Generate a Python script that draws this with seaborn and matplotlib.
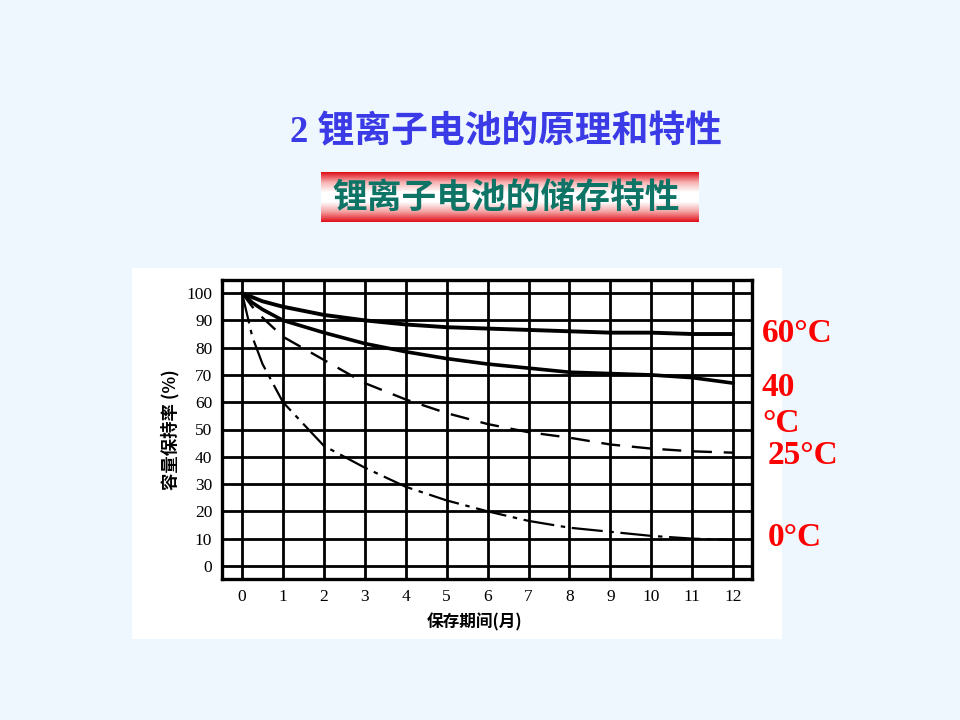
import numpy as np
import pandas as pd
import matplotlib
matplotlib.use("Agg")
import matplotlib.pyplot as plt
import seaborn as sns
from matplotlib.colors import LinearSegmentedColormap

# storage time (months) and capacity retention (%)
months = [0, 0.25, 0.5, 1, 2, 3, 4, 5, 6, 7, 8, 9, 10, 11, 12]
ret_60 = [100, 98.5, 97, 95, 92, 90, 88.5, 87.5, 87, 86.5, 86, 85.5, 85.5, 85, 85]
ret_40 = [100, 96.5, 94, 90, 85.5, 81.5, 78.5, 76, 74, 72.5, 71, 70.5, 70, 69, 67]
ret_25 = [100, 95, 91, 84, 75.5, 67, 61, 56, 52, 49, 47, 44.5, 43, 42, 41.5]
ret_0 = [100, 84, 74, 60, 44, 36, 29, 24, 20, 16.5, 14, 12.5, 11, 10, 9.5]

x_ticks = list(range(0, 13))
y_ticks = list(range(0, 101, 10))
temp_labels = ["60°C", "40\n°C", "25°C", "0°C"]

df = pd.concat([
    pd.DataFrame({"month": months, "ret": r, "temp": t})
    for r, t in zip([ret_60, ret_40, ret_25, ret_0], ["60", "40", "25", "0"])
])

sns.set_theme(style="white")
plt.rcParams['font.family'] = ['Liberation Serif', 'Noto Sans CJK SC', 'DejaVu Sans']

fig = plt.figure(figsize=(9.6, 7.2), dpi=100)
fig.patch.set_facecolor('#EEF6FE')

# white panel of the scanned figure
panel = fig.add_axes([132/960, 1-639/720, 650/960, 371/720])
panel.set_facecolor('white')
panel.set_xticks([]); panel.set_yticks([])
for s in panel.spines.values():
    s.set_visible(False)

ax = fig.add_axes([222/960, 1-579/720, 530/960, 299/720])
ax.set_facecolor('white')

styles = {"60": dict(lw=2.8, ls='-'), "40": dict(lw=2.6, ls='-'),
          "25": dict(lw=1.7, ls=(0, (8, 5))), "0": dict(lw=1.6, ls=(0, (14, 3, 2, 3)))}
for t, sub in df.groupby("temp", sort=False):
    sns.lineplot(data=sub, x="month", y="ret", ax=ax, color='black',
                 linewidth=styles[t]["lw"], linestyle=styles[t]["ls"], legend=False)

ax.set_xlim(-0.49, 12.46)
ax.set_ylim(-4.8, 104.8)
ax.set_xticks(x_ticks)
ax.set_yticks(y_ticks)
ax.grid(True, color='black', linewidth=2.0)
ax.tick_params(length=0, labelsize=12.5, colors='black', pad=7)
for s in ax.spines.values():
    s.set_color('black'); s.set_linewidth(2.4)
ax.set_xlabel("保存期间(月)", fontsize=12, color='black',
              fontweight='bold', family=['Noto Sans CJK SC'])
ax.set_ylabel("容量保持率 (%)", fontsize=12.5, color='black',
              fontweight='bold', family=['Noto Sans CJK SC'])
ax.xaxis.set_label_coords(0.477, -0.115)
ax.yaxis.set_label_coords(-0.08, 0.5)

# temperature labels to the right of the chart
red_kw = dict(color='#FF0000', fontsize=24, fontweight='bold',
              family=['Liberation Serif', 'DejaVu Serif'], va='center', ha='left')
fig.text(762/960, 1-333/720, temp_labels[0], **red_kw)
fig.text(762/960, 1-387/720, "40", **red_kw)
fig.text(762/960, 1-423/720, "°C", **red_kw)
fig.text(768/960, 1-455/720, temp_labels[2], **red_kw)
fig.text(768/960, 1-538/720, temp_labels[3], **red_kw)

# slide title
fig.text(506/960, 1-133/720, "2 锂离子电池的原理和特性", color='#3A3AE6',
         fontsize=26.5, fontweight='bold', ha='center', va='center',
         family=['Liberation Serif', 'Noto Sans CJK SC'])

# banner with red-white-red gradient
bax = fig.add_axes([321/960, 1-222/720, 378/960, 50/720])
cmap = LinearSegmentedColormap.from_list('banner', ['#E0101A', '#F7B0B0', '#FFFFFF', '#FFFFFF', '#F4A0A0', '#E0101A'])
grad = np.linspace(0, 1, 100).reshape(-1, 1)
bax.imshow(grad, aspect='auto', cmap=cmap, extent=[0, 1, 0, 1])
bax.set_xticks([]); bax.set_yticks([])
for s in bax.spines.values():
    s.set_visible(False)
bax.text(0.49, 0.5, "锂离子电池的储存特性", color='#0E7466', fontsize=25,
         fontweight='bold', ha='center', va='center', transform=bax.transAxes,
         family=['Noto Sans CJK SC'])

fig.savefig("out.png", dpi=100, facecolor=fig.get_facecolor())
